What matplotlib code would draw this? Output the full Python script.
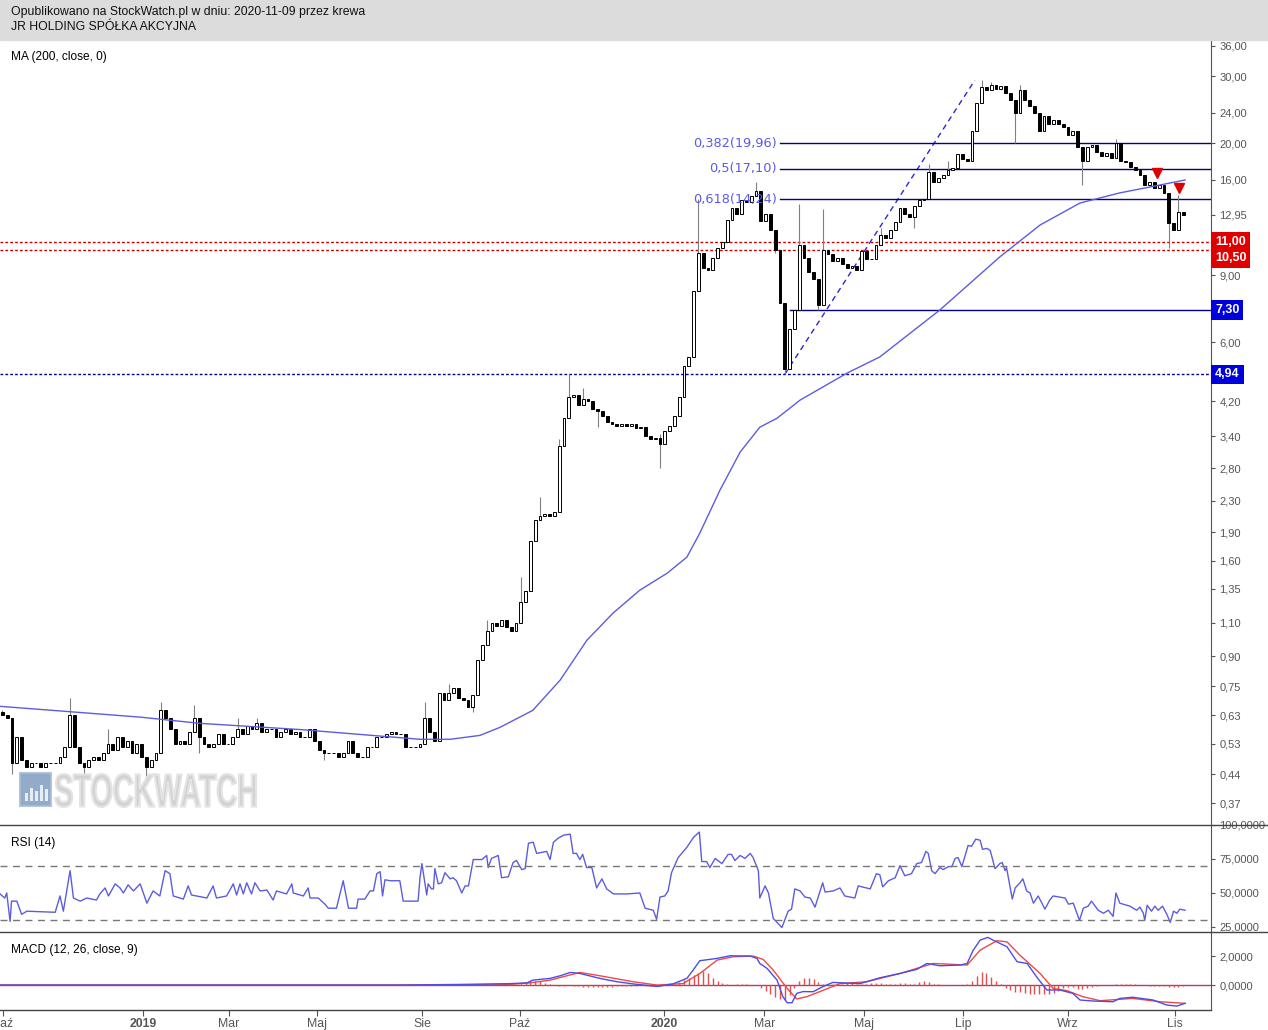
import matplotlib
matplotlib.use("Agg")
import matplotlib.pyplot as plt
from matplotlib.lines import Line2D
from matplotlib.patches import Rectangle, PathPatch
from matplotlib.textpath import TextPath
from matplotlib.font_manager import FontProperties
from matplotlib.transforms import Affine2D, IdentityTransform
from matplotlib.ticker import NullLocator
import numpy as np

# ---- price data (one candle per bar, open = previous close) ----
closes_2018 = [0.63, 0.62, 0.47, 0.55, 0.48, 0.46, 0.47, 0.47, 0.46, 0.47, 0.47, 0.47, 0.49, 0.52, 0.63,
               0.52, 0.47, 0.46, 0.48, 0.49, 0.48, 0.50, 0.53, 0.51, 0.55, 0.52, 0.54, 0.50, 0.53, 0.49]
closes_2019a = [0.46, 0.48, 0.50, 0.65, 0.62, 0.58, 0.53, 0.54, 0.53, 0.57, 0.62, 0.55, 0.53, 0.52, 0.53,
                0.56, 0.53, 0.53, 0.55, 0.58, 0.56, 0.59, 0.58, 0.60, 0.57, 0.58, 0.58, 0.55, 0.57, 0.58,
                0.56, 0.57, 0.55, 0.55, 0.58, 0.54, 0.51, 0.50, 0.50, 0.50, 0.49, 0.50, 0.54, 0.50, 0.49,
                0.49, 0.52, 0.52, 0.55, 0.55, 0.56, 0.57, 0.56, 0.56, 0.52, 0.52, 0.52, 0.53]
closes_2019b = [0.62, 0.57, 0.54, 0.72, 0.69, 0.72, 0.74, 0.70, 0.69, 0.66, 0.71, 0.88, 0.96, 1.05, 1.10,
                1.08, 1.12, 1.07, 1.05, 1.10, 1.25, 1.33, 1.80, 2.05, 2.10, 2.12, 2.10, 2.15, 3.20, 3.80,
                4.30, 4.35, 4.10, 4.25, 4.20, 4.00, 3.95, 3.85, 3.70, 3.65, 3.62, 3.66, 3.62, 3.65, 3.58,
                3.60, 3.40, 3.35, 3.36, 3.25, 3.50, 3.62, 3.85, 4.30, 5.20, 5.50]
closes_2020a = [8.2, 10.3, 9.4, 9.3, 10.0, 10.6, 11.0, 12.6, 13.5, 13.0, 14.2, 14.0, 14.5, 15.0, 12.5,
                13.0, 11.8, 10.5, 7.6, 5.1, 6.5, 7.3, 10.8, 10.0, 9.2, 8.8, 7.5, 10.5, 10.2, 9.8,
                10.0, 9.6, 9.4, 9.5, 9.3, 10.4, 9.9, 9.9, 10.8, 11.5, 11.3, 11.8, 12.4, 13.5, 13.0,
                12.8, 13.7, 14.2, 14.3, 16.8, 15.8, 16.2, 16.5, 17.0, 17.2, 18.7, 18.2, 18.0, 21.5, 25.5,
                28.0]
closes_2020b = [27.5, 28.5, 27.8, 28.2, 27.0, 26.0, 24.0, 27.5, 26.0, 25.0, 24.0, 21.5, 23.5, 22.5, 23.0,
                22.5, 22.0, 21.0, 21.5, 19.5, 18.0, 19.5, 19.8, 19.0, 18.5, 18.8, 18.3, 20.0, 18.0, 17.8,
                17.3, 17.0, 16.5, 15.5, 15.8, 15.2, 15.5, 14.8, 12.3, 11.8, 13.2, 12.95]
first_open = 0.64

wick_highs = {0: 0.65, 14: 0.70, 22: 0.58, 33: 0.68, 40: 0.67, 49: 0.62, 53: 0.62, 88: 0.68, 93: 0.76,
              101: 1.12, 108: 1.45, 112: 2.35, 116: 3.35, 118: 4.94, 121: 4.55, 137: 3.45, 145: 14.3,
              157: 15.8, 166: 13.8, 171: 13.4, 183: 12.0, 193: 17.6, 197: 18.0, 204: 29.3, 206: 29.0,
              212: 28.5, 232: 20.5, 245: 14.6}
wick_lows = {2: 0.44, 17: 0.44, 30: 0.43, 41: 0.50, 67: 0.48, 98: 0.64, 124: 3.6, 137: 2.8, 161: 10.3,
             163: 4.94, 170: 7.3, 190: 12.0, 211: 20.0, 225: 15.5, 243: 10.6}

# MA(200) read at selected bars (bar position, value)
ma_points = [(-0.5, 0.664), (28.7, 0.622), (41.2, 0.599), (62.0, 0.577), (87.0, 0.544), (93.3, 0.544),
             (99.5, 0.557), (103.7, 0.585), (110.5, 0.648), (116.2, 0.778), (121.8, 0.991), (127.2, 1.166),
             (132.8, 1.34), (138.5, 1.485), (142.6, 1.636), (145.3, 1.892), (149.5, 2.454), (153.7, 3.088),
             (157.8, 3.59), (161.4, 3.79), (166.2, 4.23), (176.0, 4.98), (182.8, 5.49), (195.3, 7.29),
             (207.8, 10.05), (216.2, 12.19), (224.5, 13.92), (232.8, 14.8), (239.1, 15.34), (246.4, 16.0)]

# horizontal levels and fibonacci
fib_low, fib_high = 4.94, 29.26
fib_start, fib_end = 163.0, 202.6
fib_names = ["0,382", "0,5", "0,618"]
fib_levels = [19.96, 17.10, 14.24]
support_level = 7.30
support_start = 164.0
dotted_level = 4.94
red_levels = [11.00, 10.50]
signal_marks = [(240.5, 16.7), (245.1, 15.25)]

# RSI(14) (bar position, value)
rsi_points = [(-0.5, 49.3), (0.5, 46.3), (0.9, 50), (1.6, 29.1), (1.9, 44), (3.0, 44), (4.0, 34.3), (5.1, 36.6),
              (11.0, 35.8), (12.0, 47.8), (12.7, 36.6), (14.1, 66.4), (14.8, 46.3), (16.2, 44), (17.6, 46.3),
              (19.6, 44.8), (20.3, 49.3), (21.4, 53.7), (22.1, 47.8), (23.5, 56.7), (24.5, 53.7), (25.2, 50),
              (26.2, 56), (27.3, 51.5), (28.7, 56.7), (30.1, 42.5), (31.4, 51.5), (32.8, 47.8), (33.9, 66.4),
              (34.9, 64.2), (35.6, 47.8), (37.7, 45.5), (38.7, 55.2), (39.4, 48.5), (42.6, 46.3), (43.9, 55.2),
              (44.6, 46.3), (46.7, 47.8), (48.1, 56.7), (48.8, 48.5), (49.5, 56.7), (50.2, 49.3), (50.9, 57.5),
              (51.9, 49.3), (52.6, 57.5), (53.7, 51.5), (55.1, 52.2), (56.4, 44.8), (57.1, 51.5), (59.2, 49.3),
              (60.3, 56.7), (60.6, 50), (62.7, 47.8), (63.7, 53.7), (64.1, 46.3), (65.8, 46.3), (67.2, 41.8),
              (67.9, 38.8), (69.6, 38.8), (71.0, 59), (72.1, 38.8), (73.8, 38.8), (74.1, 45.5), (75.5, 45.5),
              (76.6, 51.5), (77.3, 51.5), (78.0, 64.2), (78.7, 65.7), (79.2, 47.8), (79.7, 59.7), (80.8, 59),
              (82.8, 59), (83.5, 44), (86.6, 44), (87.0, 61.2), (87.4, 71.6), (88.4, 48.5), (88.7, 56.7),
              (89.4, 53), (89.8, 53), (90.1, 67.9), (90.8, 56.7), (91.5, 57.5), (92.2, 64.9), (93.3, 60.4),
              (93.9, 61.2), (94.6, 59), (95.7, 50), (96.4, 55.2), (97.1, 55.2), (98.1, 74.6), (99.9, 74.6),
              (100.9, 77.6), (101.2, 68.7), (101.9, 75.4), (103.3, 77.6), (104.0, 61.2), (105.4, 61.9),
              (106.4, 72.4), (107.1, 73.9), (108.2, 67.2), (108.9, 67.9), (109.6, 86.6), (110.6, 87.3),
              (111.3, 79.1), (113.4, 80.6), (114.1, 74.6), (114.8, 87.3), (115.8, 90.3), (116.9, 92.5),
              (118.3, 93.3), (118.9, 79.1), (119.6, 79.1), (120.3, 74.6), (120.9, 78.4), (121.7, 68.7),
              (122.8, 68.7), (123.8, 53.7), (124.9, 60.4), (125.9, 53), (127.3, 49.3), (130.1, 49.3),
              (132.8, 50), (133.9, 38.8), (135.6, 37.3), (136.3, 30.6), (137.0, 47), (138.0, 47.8),
              (138.7, 51.5), (139.4, 64.9), (140.8, 76.1), (142.6, 83.6), (144.0, 91), (145.2, 94.8),
              (145.7, 73.1), (146.7, 73.1), (147.4, 68.7), (148.5, 75.4), (149.9, 71.6), (151.2, 78.4),
              (151.9, 78.4), (152.6, 73.9), (153.7, 77.6), (154.7, 75.4), (155.8, 79.1), (156.4, 76.1),
              (157.5, 66.4), (157.8, 46.3), (158.9, 55.2), (159.6, 50), (160.6, 31.3), (162.4, 24.6),
              (163.7, 36.6), (164.4, 38.1), (165.1, 53), (166.2, 51.5), (167.2, 47), (168.3, 46.3),
              (169.3, 39.6), (170.9, 57.5), (171.4, 50.7), (173.1, 51.5), (174.5, 53.7), (175.5, 47.8),
              (177.6, 46.3), (178.3, 55.2), (180.8, 53), (182.1, 64.2), (182.8, 63.4), (183.4, 54.5),
              (184.6, 59), (186.0, 61.2), (187.0, 70.1), (188.0, 62.7), (189.4, 64.2), (190.5, 71.6),
              (191.5, 72.4), (192.4, 80.6), (192.9, 79.1), (193.6, 66.4), (194.3, 64.2), (195.3, 68.7),
              (196.0, 67.2), (197.1, 69.4), (197.8, 69.4), (198.5, 75.4), (199.1, 76.1), (199.9, 69.4),
              (201.2, 85), (201.9, 84.3), (202.8, 89.6), (203.7, 88.8), (204.2, 82.1), (205.1, 82.8),
              (205.8, 81.3), (206.8, 67.9), (207.8, 71.6), (208.3, 72.4), (208.9, 66.4), (209.2, 68.7),
              (210.4, 45.5), (211.0, 53.7), (212.0, 57.5), (212.6, 60.4), (213.4, 51.5), (214.1, 50),
              (214.8, 42.5), (215.8, 47.8), (217.2, 38.1), (218.2, 44.8), (218.9, 47.8), (221.4, 46.3),
              (222.1, 41.8), (223.1, 42.5), (224.4, 29.9), (225.2, 38.8), (226.2, 40.3), (226.9, 44),
              (228.3, 37.3), (229.4, 35.1), (230.4, 37.3), (231.4, 32.8), (232.0, 50), (232.8, 42.5),
              (234.9, 40.3), (236.3, 37.3), (237.0, 39.6), (237.7, 35.1), (238.0, 29.9), (238.5, 41),
              (239.4, 36.6), (240.1, 40.3), (240.8, 37.3), (241.7, 40.3), (242.6, 34.3), (243.3, 28.4),
              (244.0, 36.6), (244.7, 35.1), (245.3, 38.1), (246.4, 37.3)]

# MACD(12, 26, 9)
macd_points = [(-0.5, 0.0), (82.8, 0.0), (97.4, 0.05), (105.8, 0.1), (109.3, 0.15), (110.5, 0.34),
               (114.1, 0.46), (116.2, 0.64), (118.3, 0.87), (120.3, 0.80), (124.5, 0.46), (128.0, 0.23),
               (131.4, 0.08), (136.4, -0.1), (139.7, 0.08), (142.6, 0.46), (143.9, 1.03), (145.3, 1.68),
               (148.9, 1.84), (151.6, 2.02), (155.8, 2.0), (157.2, 1.84), (157.8, 1.49), (159.3, 1.15),
               (161.4, 0.34), (162.6, -0.8), (163.5, -1.22), (164.5, -1.22), (165.5, -0.57), (166.8, -0.45),
               (168.9, -0.46), (171.0, -0.1), (173.0, 0.18), (178.7, 0.1), (182.8, 0.5), (187.0, 0.8),
               (190.5, 1.08), (192.6, 1.49), (195.3, 1.33), (199.5, 1.38), (201.0, 1.49), (202.2, 2.37),
               (203.7, 3.1), (205.3, 3.29), (206.4, 3.1), (209.3, 2.64), (211.4, 1.61), (213.5, 1.49),
               (215.5, 0.55), (217.6, -0.34), (220.3, -0.34), (223.0, -0.57), (224.5, -1.03), (227.2, -1.1),
               (231.4, -1.15), (232.8, -0.92), (235.5, -0.84), (239.7, -1.03), (242.6, -1.38), (244.7, -1.45),
               (246.4, -1.26)]
signal_points = [(-0.5, 0.0), (82.8, 0.0), (105.8, 0.05), (109.9, 0.15), (114.1, 0.34), (120.3, 0.87),
                 (124.5, 0.64), (131.4, 0.23), (136.4, 0.0), (141.8, 0.1), (145.3, 0.8), (148.9, 1.72),
                 (152.2, 1.95), (156.4, 2.0), (158.5, 1.77), (160.6, 1.03), (163.5, -0.23), (165.5, -0.96),
                 (167.6, -0.8), (169.7, -0.53), (174.5, 0.1), (180.1, 0.23), (187.0, 0.8), (193.9, 1.49),
                 (201.0, 1.38), (203.7, 2.41), (207.2, 3.06), (209.3, 2.98), (212.0, 2.06), (216.2, 0.8),
                 (218.9, -0.23), (221.8, -0.39), (225.1, -0.8), (228.7, -1.08), (235.5, -0.92), (241.2, -1.15),
                 (246.4, -1.26)]
hist_start = 88
hist_values = [0, 0.03, 0.03, 0.03, 0.03, 0.03, 0.03, 0.03, 0.03, 0.03, 0.04, 0.06, 0.08, 0.06, 0.04,
               0.02, 0.02, 0.03, 0.04, 0.05, 0.1, 0.2, 0.3, 0.3, 0.25, 0.15, 0.05, 0.0, -0.05, -0.05,
               -0.03, -0.05, -0.08, -0.1, -0.1, -0.12, -0.12, -0.12, -0.1, -0.1, -0.08, -0.08, -0.06, -0.05,
               -0.04, -0.03, -0.04, -0.05, -0.05, -0.04, 0.0, 0.05, 0.1, 0.2, 0.35, 0.5, 0.7, 0.85, 0.95,
               0.8, 0.5, 0.3, 0.15, 0.05, 0.03, 0.05, 0.06, 0.05, 0.03, 0.0, -0.2, -0.4, -0.6, -0.8, -0.95,
               -1.0, -0.7, -0.2, 0.3, 0.5, 0.5, 0.4, 0.2, 0.1, 0.1, 0.08, 0.1, 0.1, 0.12, 0.12, 0.1, 0.05,
               0.1, 0.12, 0.15, 0.12, 0.1, 0.08, 0.1, 0.12, 0.12, 0.1, 0.1, 0.2, 0.25, 0.2, 0.1, 0.05, 0.0,
               0.03, 0.03, 0.02, 0.02, 0.05, 0.3, 0.6, 0.9, 0.8, 0.55, 0.3, 0.05, -0.2, -0.35, -0.45, -0.5,
               -0.55, -0.6, -0.6, -0.65, -0.65, -0.6, -0.55, -0.4, -0.2, -0.1, -0.1, -0.25, -0.3, -0.2, -0.1,
               -0.05, -0.03, -0.02, 0.0, 0.05, 0.1, 0.1, 0.08, 0.05, 0.03, -0.03, -0.05, -0.06, -0.06, -0.05,
               -0.1, -0.12, -0.1, -0.06]

# axis labels
month_pos = [0.1, 29.3, 47.2, 65.5, 87.4, 107.8, 137.8, 158.7, 179.5, 200.1, 222.0, 244.3]
month_names = ["Paź", "2019", "Mar", "Maj", "Sie", "Paź", "2020", "Mar", "Maj", "Lip", "Wrz", "Lis"]
price_ticks = [36, 30, 24, 20, 16, 12.95, 9, 6, 4.2, 3.4, 2.8, 2.3, 1.9, 1.6, 1.35, 1.1, 0.9, 0.75,
               0.63, 0.53, 0.44, 0.37]
rsi_ticks = [100, 75, 50, 25]
macd_ticks = [2, 0]

W, H = 1268, 1030
BLUE = "#5c5ce0"
NAVY = "#000088"
GREY = "#555555"
plt.rcParams['font.family'] = ['Liberation Sans', 'DejaVu Sans']


def fx(px):
    return px / W


def fy(py):
    return 1 - py / H


def comma(v, nd):
    return f"{v:.{nd}f}".replace(".", ",")


closes = closes_2018 + closes_2019a + closes_2019b + closes_2020a + closes_2020b
n = len(closes)
idx = np.arange(n)
c = np.array(closes)
o = np.array([first_open] + closes[:-1])
hi = np.maximum(o, c)
lo = np.minimum(o, c)
for k, v in wick_highs.items():
    hi[k] = max(hi[k], v)
for k, v in wick_lows.items():
    lo[k] = min(lo[k], v)

fig = plt.figure(figsize=(W / 100, H / 100), dpi=100)
fig.patches.append(Rectangle((0, fy(40)), 1, 40 / H, transform=fig.transFigure, color="#dcdcdc", zorder=0))
fig.text(fx(11), fy(12), "Opublikowano na StockWatch.pl w dniu: 2020-11-09 przez krewa", fontsize=8.8,
         va="center", color="#111111")
fig.text(fx(11), fy(27), "JR HOLDING SPÓŁKA AKCYJNA", fontsize=8.8, va="center", color="#111111")

xlim = (-0.5, 251.8)
axp = fig.add_axes([0, fy(825), fx(1211), (825 - 40) / H])
axr = fig.add_axes([0, fy(932), fx(1211), (932 - 825) / H])
axm = fig.add_axes([0, fy(1010), fx(1211), (1010 - 932) / H])
for ax in (axp, axr, axm):
    ax.set_xlim(*xlim)
    for s in ("left", "top", "bottom"):
        ax.spines[s].set_visible(False)
    ax.spines["right"].set_color(GREY)
    ax.yaxis.tick_right()
    ax.tick_params(axis="y", direction="out", length=3, color=GREY, labelcolor=GREY, labelsize=8, pad=3)
    ax.set_facecolor("none")

# ---- watermark (behind everything) ----
fig.patches.append(Rectangle((fx(20), fy(806)), 31 / W, 33 / H, transform=fig.transFigure,
                             fc="#7e9dc0", ec="#a9bdd3", lw=1.5, alpha=0.85, zorder=1))
for bx, bh in [(25, 8), (30, 13), (35, 10), (40, 16), (45, 12)]:
    fig.patches.append(Rectangle((fx(bx), fy(801)), 3 / W, bh / H, transform=fig.transFigure,
                                 fc="white", ec="none", alpha=0.8, zorder=2))
wm = TextPath((0, 0), "STOCKWATCH", size=1, prop=FontProperties(family="Liberation Sans", weight="bold"))
ext = wm.get_extents()
wm_tr = Affine2D().translate(-ext.x0, -ext.y0).scale(201 / ext.width, 33 / ext.height).translate(55, H - 807)
fig.patches.append(PathPatch(wm, transform=wm_tr + IdentityTransform(), fc="#d2d2d2", ec="#e4e4e4",
                             lw=1.5, zorder=1))

# ---- price panel ----
axp.set_yscale("log")
axp.set_ylim(0.324, 37.3)
axp.vlines(idx, lo, hi, color="#808080", lw=0.8, zorder=2)
colors = ["white" if cc >= oo else "black" for oo, cc in zip(o, c)]
axp.bar(idx, np.abs(c - o), bottom=np.minimum(o, c), width=0.6, color=colors,
        edgecolor="black", linewidth=0.7, zorder=3)
mx, mv = zip(*ma_points)
axp.plot(mx, mv, color=BLUE, lw=1, zorder=4)

for lvl in red_levels:
    axp.axhline(lvl, color="#cc0000", lw=1, ls=(0, (2, 1.5)), zorder=1)
axp.axhline(dotted_level, color=NAVY, lw=1, ls=(0, (2, 1.5)), zorder=1)
axp.plot([support_start, xlim[1]], [support_level, support_level], color=NAVY, lw=1, zorder=1)
axp.plot([fib_start, fib_end], [fib_low, fib_high], color="#2a2ad0", lw=1, ls=(0, (4, 3)), zorder=1)
for name, lvl in zip(fib_names, fib_levels):
    axp.plot([fib_start - 1, xlim[1]], [lvl, lvl], color=NAVY, lw=1, zorder=1)
    axp.text(fib_start - 1.6, lvl, f"{name}({comma(lvl, 2)})",
             family="DejaVu Sans", fontsize=9.3, color="#5a5ae6", ha="right", va="center", zorder=5)
sx, sv = zip(*signal_marks)
axp.plot(sx, sv, ls="none", marker="v", color="#e00000", markersize=7, zorder=6)

axp.set_yticks(price_ticks)
axp.set_yticklabels([comma(v, 2) for v in price_ticks])
axp.yaxis.set_minor_locator(NullLocator())
axp.set_xticks([])
for lvl, dy, col in [(11.00, 0, "#e00000"), (10.50, -6, "#e00000"), (7.30, 0, "#0000dd"), (4.94, 0, "#0000dd")]:
    axp.annotate(comma(lvl, 2), xy=(1.0, lvl), xycoords=("axes fraction", "data"), xytext=(3, dy),
                 textcoords="offset points", ha="left", va="center", fontsize=9, color="white",
                 fontweight="bold", bbox=dict(boxstyle="square,pad=0.3", fc=col, ec="none"),
                 annotation_clip=False)
fig.text(fx(11), fy(57), "MA (200, close, 0)", fontsize=8.6, va="center")

# ---- RSI panel ----
axr.set_ylim(21.3, 100)
rx, rv = zip(*rsi_points)
axr.plot(rx, rv, color=BLUE, lw=1)
for lvl in (70, 30):
    axr.axhline(lvl, color="#777777", lw=1, ls=(0, (5, 4)))
axr.set_yticks(rsi_ticks)
axr.set_yticklabels([comma(v, 4) for v in rsi_ticks])
axr.set_xticks([])
fig.text(fx(11), fy(843), "RSI (14)", fontsize=8.6, va="center")

# ---- MACD panel ----
axm.set_ylim(-1.72, 3.66)
hx = np.arange(hist_start, hist_start + len(hist_values))
axm.vlines(hx, 0, hist_values, color="#e05050", lw=1)
axm.axhline(0, color="#b04060", lw=1, zorder=1)
px_, pv_ = zip(*signal_points)
axm.plot(px_, pv_, color="#f04848", lw=1)
qx, qv = zip(*macd_points)
axm.plot(qx, qv, color="#4c4ce6", lw=1)
axm.set_yticks(macd_ticks)
axm.set_yticklabels([comma(v, 4) for v in macd_ticks])
axm.set_xticks(month_pos)
axm.set_xticklabels(month_names)
axm.tick_params(axis="x", direction="out", length=4, color=GREY, labelcolor=GREY, labelsize=8.8, pad=2)
for lab in axm.get_xticklabels():
    if lab.get_text() in ("2019", "2020"):
        lab.set_fontweight("bold")
fig.text(fx(11), fy(950), "MACD (12, 26, close, 9)", fontsize=8.6, va="center")

# frame lines
for yy in (825, 932):
    fig.add_artist(Line2D([0, 1], [fy(yy), fy(yy)], transform=fig.transFigure, color="#444444", lw=1))
fig.add_artist(Line2D([0, fx(1211)], [fy(1010), fy(1010)], transform=fig.transFigure, color="#444444", lw=1))

fig.savefig("out.png", dpi=100, facecolor="white")
